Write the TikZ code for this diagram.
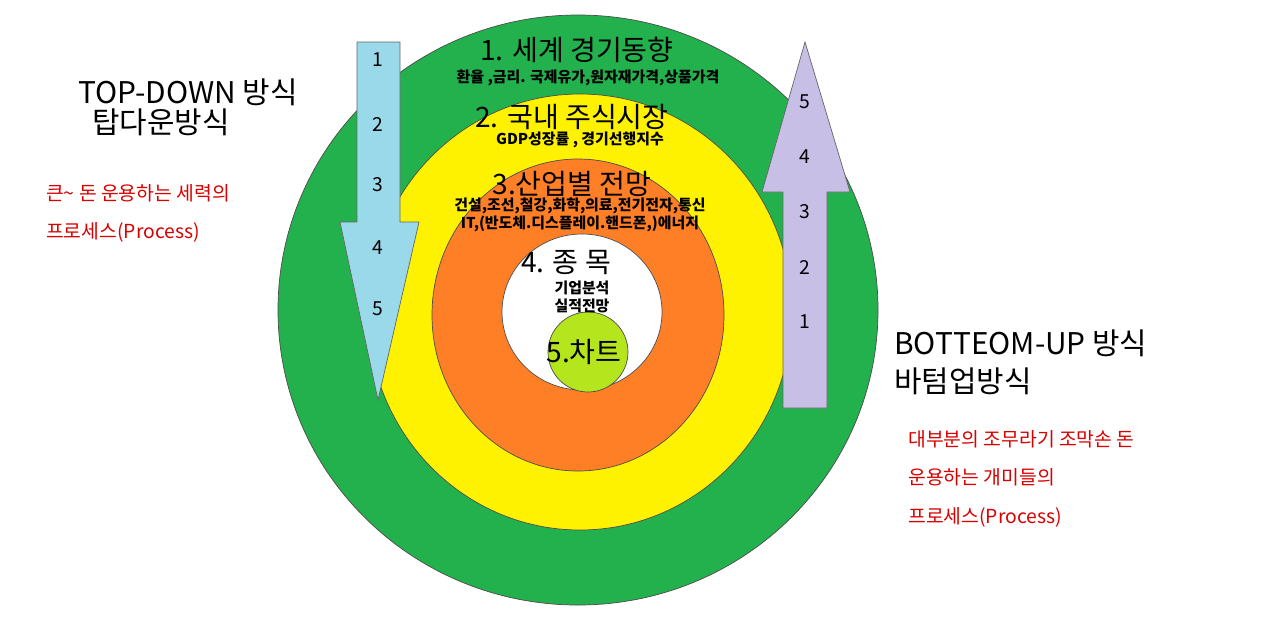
\documentclass[tikz,border=0pt]{standalone}
\usepackage{fontspec}
\setmainfont{Noto Sans CJK KR}
\definecolor{cgreen}{HTML}{22B14C}
\definecolor{cyel}{HTML}{FFF200}
\definecolor{corange}{HTML}{FF7F27}
\definecolor{clime}{HTML}{B5E61D}
\definecolor{cblue}{HTML}{99D9EA}
\definecolor{cviolet}{HTML}{C8BFE7}
\tikzset{
 ring/.style={draw=black!70,line width=0.4pt},
 ttl/.style={font=\fontsize{16}{18}\selectfont},
 sub/.style={font=\fontsize{8.5}{10}\selectfont\bfseries, align=center},
 num/.style={font=\fontsize{11}{12}\selectfont},
 big/.style={font=\fontsize{17}{20}\selectfont, anchor=west},
 red/.style={text=red!85!black,font=\fontsize{11}{22}\selectfont, anchor=north west, align=left}
}
\begin{document}
\begin{tikzpicture}[x=0.02cm,y=-0.02cm]
\useasboundingbox[fill=white] (0,0) rectangle (1280,640);
\fill[ring,fill=cgreen] (578,310) ellipse (300 and 295);
\fill[ring,fill=cyel] (580,312) ellipse (212 and 218);
\fill[ring,fill=corange] (578,315) ellipse (146 and 156);
\fill[ring,fill=white] (582,312) ellipse (80 and 78);
\fill[ring,fill=clime] (588,352) circle (40);
\node[ttl] (t1) at (577,50) {1. 세계 경기동향};
\node[sub] (s1) at (588,78) {환율 ,금리. 국제유가,원자재가격,상품가격};
\node[ttl] (t2) at (572,117) {2. 국내 주식시장};
\node[sub] (s2) at (580,140) {GDP성장률 , 경기선행지수};
\node[ttl] (t3) at (572,184) {3.산업별 전망};
\node[sub] (s3) at (580,215) {건설,조선,철강,화학,의료,전기전자,통신\\IT,(반도체.디스플레이.핸드폰,)에너지};
\node[ttl] (t4) at (566,262) {4. 종 목};
\node[sub] (s4) at (582,297) {기업분석\\실적전망};
\node[ttl] (t5) at (584,352) {5.차트};
\draw[fill=cblue,draw=black!60] (357,42) -- (400,42) -- (400,222) -- (419,222) -- (378,400) -- (340,222) -- (357,222) -- cycle;
\foreach \n/\yy in {1/60,2/124,3/185,4/248,5/309} \node[num] (a\n) at (378,\yy) {\n};
\draw[fill=cviolet,draw=black!60] (783,408) -- (827,408) -- (827,192) -- (850,192) -- (805,42) -- (762,192) -- (783,192) -- cycle;
\foreach \n/\yy in {5/102,4/157,3/212,2/267,1/322} \node[num] (b\n) at (805,\yy) {\n};
\node[big] (td) at (72,92) {TOP-DOWN 방식};
\node[big] (td2) at (86,122) {탑다운방식};
\node[red] (r1) at (40,178) {큰\textasciitilde{} 돈 운용하는 세력의\\프로세스(\textit{Process})};
\node[big] (bu) at (888,343) {BOTTEOM-UP 방식};
\node[big] (bu2) at (888,381) {바텀업방식};
\node[red] (r2) at (902,424) {대부분의 조무라기 조막손 돈\\운용하는 개미들의\\프로세스(\textit{Process})};
\end{tikzpicture}
\end{document}
